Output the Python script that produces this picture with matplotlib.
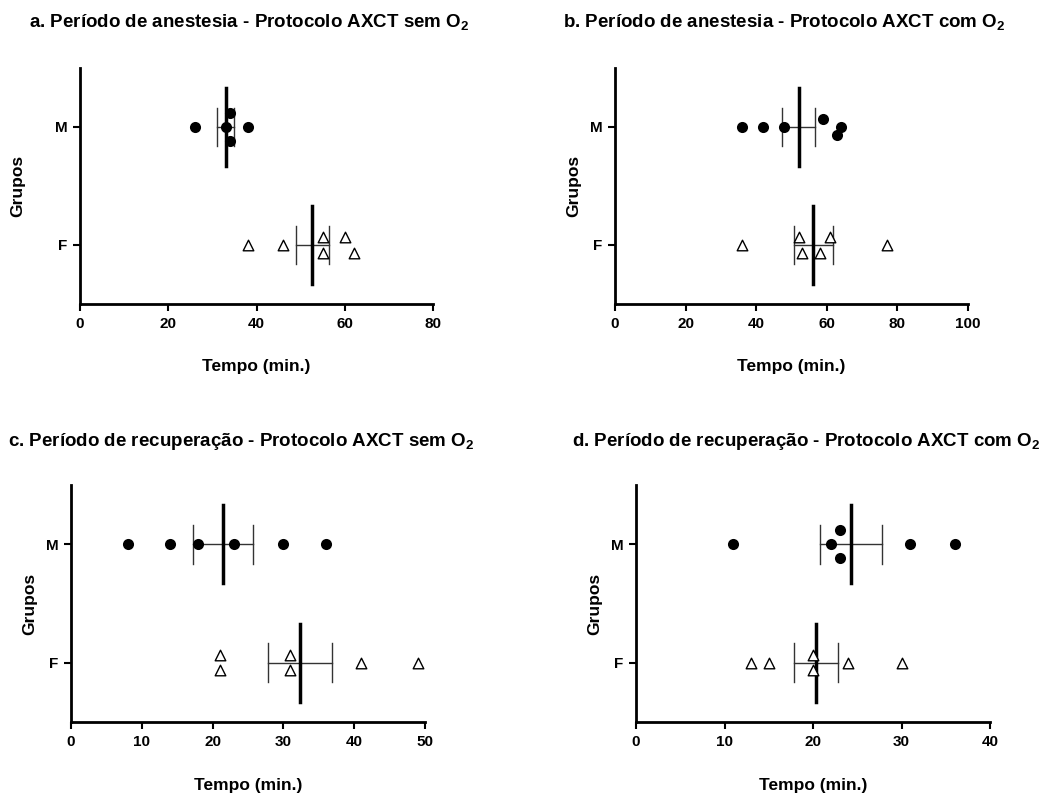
import numpy as np
import matplotlib.pyplot as plt

plt.rcParams['font.family'] = ['Liberation Sans', 'DejaVu Sans']
plt.rcParams['font.weight'] = 'bold'
plt.rcParams['mathtext.fontset'] = 'custom'
plt.rcParams['mathtext.rm'] = 'Liberation Sans:bold'
plt.rcParams['mathtext.default'] = 'rm'

groups = ['F', 'M']

# tempos (min.) de cada animal
a_m = [26, 33, 34, 34, 38]
a_f = [38, 46, 55, 55, 60, 62]
b_m = [36, 42, 48, 59, 64, 63]
b_f = [36, 52, 53, 58, 61, 77]
c_m = [8, 14, 18, 23, 30, 36]
c_f = [21, 21, 31, 31, 41, 49]
d_m = [11, 22, 23, 23, 31, 36]
d_f = [13, 15, 20, 20, 24, 30]

# deslocamento vertical dos pontos sobrepostos (layout)
a_m_dy = [0, 0, 0.12, -0.12, 0]
a_f_dy = [0, 0, 0.065, -0.065, 0.065, -0.065]
b_m_dy = [0, 0, 0, 0.065, 0, -0.065]
b_f_dy = [0, 0.065, -0.065, -0.065, 0.065, 0]
c_m_dy = [0, 0, 0, 0, 0, 0]
c_f_dy = [0.065, -0.065, 0.065, -0.065, 0, 0]
d_m_dy = [0, 0, 0.12, -0.12, 0, 0]
d_f_dy = [0, 0, 0.065, -0.065, 0, 0]

titles = [
    r"a. Período de anestesia - Protocolo AXCT sem O$_2$",
    r"b. Período de anestesia - Protocolo AXCT com O$_2$",
    r"c. Período de recuperação - Protocolo AXCT sem O$_2$",
    r"d. Período de recuperação - Protocolo AXCT com O$_2$",
]
xmax = [80, 100, 50, 40]
xstep = [20, 20, 10, 10]

W, H = 1060, 795
fig = plt.figure(figsize=(W / 100, H / 100), dpi=100)

# caixas dos eixos em pixels: esquerda, direita, topo, base
boxes = [(80, 433, 68, 304), (615, 968, 68, 304),
         (71, 425, 485, 722), (636, 990, 485, 722)]
title_pos = [(29, 22), (563, 22), (8, 442), (572, 442)]
ylab_x = [-0.156, -0.096, -0.096, -0.096]

panels = [(a_m, a_m_dy, a_f, a_f_dy), (b_m, b_m_dy, b_f, b_f_dy),
          (c_m, c_m_dy, c_f, c_f_dy), (d_m, d_m_dy, d_f, d_f_dy)]

for i, (m, mdy, f, fdy) in enumerate(panels):
    l, r, t, b = boxes[i]
    ax = fig.add_axes([l / W, 1 - b / H, (r - l) / W, (b - t) / H])

    for k, (vals, dy) in enumerate([(f, fdy), (m, mdy)]):
        vals = np.array(vals, dtype=float)
        mean = vals.mean()
        sem = vals.std(ddof=1) / np.sqrt(len(vals))
        ax.plot([mean - sem, mean + sem], [k, k], color='#333333', lw=1, zorder=2)
        for x in (mean - sem, mean + sem):
            ax.plot([x, x], [k - 0.165, k + 0.165], color='#333333', lw=1, zorder=2)
        ax.plot([mean, mean], [k - 0.33, k + 0.33], color='black', lw=2.5, zorder=3)
        yy = k + np.array(dy)
        if k == 1:
            ax.scatter(vals, yy, s=64, color='black', zorder=4, linewidths=0)
        else:
            ax.scatter(vals, yy, s=58, marker='^', facecolor='white',
                       edgecolor='black', linewidths=1, zorder=4)

    ax.set_xlim(0, xmax[i])
    ax.set_ylim(-0.5, 1.5)
    ax.set_xticks(np.arange(0, xmax[i] + 1, xstep[i]))
    ax.set_yticks([0, 1])
    ax.set_yticklabels(groups)
    ax.spines['right'].set_visible(False)
    ax.spines['top'].set_visible(False)
    ax.spines['left'].set_linewidth(2)
    ax.spines['bottom'].set_linewidth(2)
    ax.tick_params(width=1.5, length=5, labelsize=11, pad=4)
    ax.set_xlabel("Tempo (min.)", fontsize=12.5, fontweight='bold')
    ax.xaxis.set_label_coords(0.5, -0.235)
    ax.set_ylabel("Grupos", fontsize=12.5, fontweight='bold')
    ax.yaxis.set_label_coords(ylab_x[i], 0.5)

    tx, ty = title_pos[i]
    fig.text(tx / W, 1 - ty / H, titles[i], fontsize=13.5, fontweight='bold',
             ha='left', va='center')

fig.savefig("out.png", dpi=100)
